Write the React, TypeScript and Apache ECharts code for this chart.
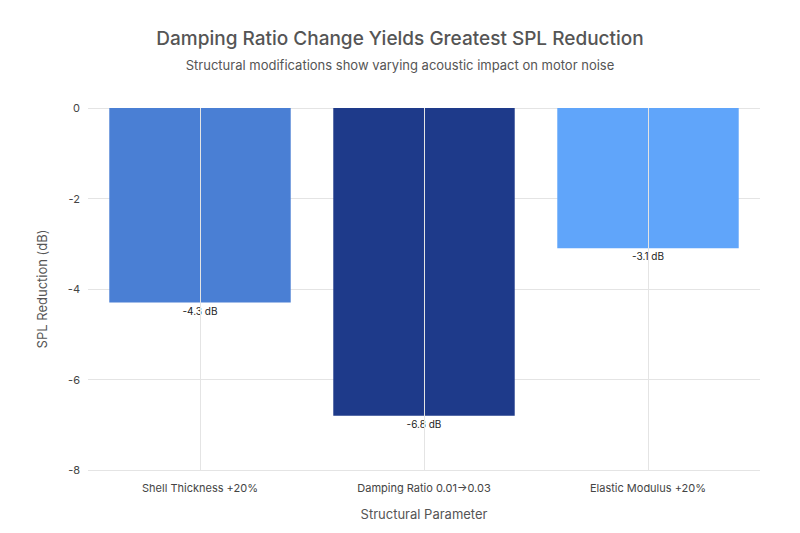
import React, { useEffect, useRef } from "react";
import * as echarts from "echarts";

const categories = ["Shell Thickness +20%", "Damping Ratio 0.01→0.03", "Elastic Modulus +20%"];
const values = [-4.3, -6.8, -3.1];
const colors = ["#4a7fd4", "#1e3a8a", "#60a5fa"];

export default function App() {
  const ref = useRef<HTMLDivElement>(null);
  useEffect(() => {
    const chart = echarts.init(ref.current!, null, { renderer: "svg" });
    const font = "Inter, 'Noto Sans', sans-serif";
    chart.setOption({
      animation: false,
      textStyle: { fontFamily: font },
      title: {
        text: "Damping Ratio Change Yields Greatest SPL Reduction",
        subtext: "Structural modifications show varying acoustic impact on motor noise",
        left: "center",
        top: 16,
        textStyle: { fontSize: 19, fontWeight: 500, color: "#555", fontFamily: font },
        subtextStyle: { fontSize: 13, color: "#555", fontFamily: font },
        itemGap: 10,
      },
      grid: { left: 80, right: 32, top: 100, bottom: 53, containLabel: false },
      xAxis: {
        type: "category",
        data: categories,
        position: "bottom",
        name: "Structural Parameter",
        nameLocation: "middle",
        nameGap: 37,
        nameTextStyle: { fontSize: 13, color: "#555" },
        axisLine: { show: false },
        axisTick: { show: false },
        axisLabel: { color: "#444", fontSize: 11, margin: 12 },
      },
      yAxis: {
        type: "value",
        min: -8,
        max: 0,
        interval: 2,
        name: "SPL Reduction (dB)",
        nameLocation: "middle",
        nameGap: 40,
        nameTextStyle: { fontSize: 13, color: "#555" },
        axisLabel: { color: "#444", fontSize: 11 },
        splitLine: { lineStyle: { color: "#e4e4e4" } },
      },
      series: [
        {
          type: "bar",
          z: 1,
          data: [],
          markLine: {
            silent: true,
            symbol: "none",
            label: { show: false },
            lineStyle: { color: "#e4e4e4", type: "solid", width: 1 },
            data: categories.map((c) => ({ xAxis: c })),
          },
        },
        {
          type: "bar",
          z: 3,
          barGap: "-100%",
          barCategoryGap: "19%",
          data: values.map((v, i) => ({ value: v, itemStyle: { color: colors[i] } })),
          label: {
            show: true,
            position: "bottom",
            distance: 3,
            formatter: (p: any) => `${p.value} dB`,
            color: "#222",
            fontSize: 10,
          },
        },
      ],
    });
    return () => chart.dispose();
  }, []);
  return <div ref={ref} style={{ width: 784, height: 517 }} />;
}
